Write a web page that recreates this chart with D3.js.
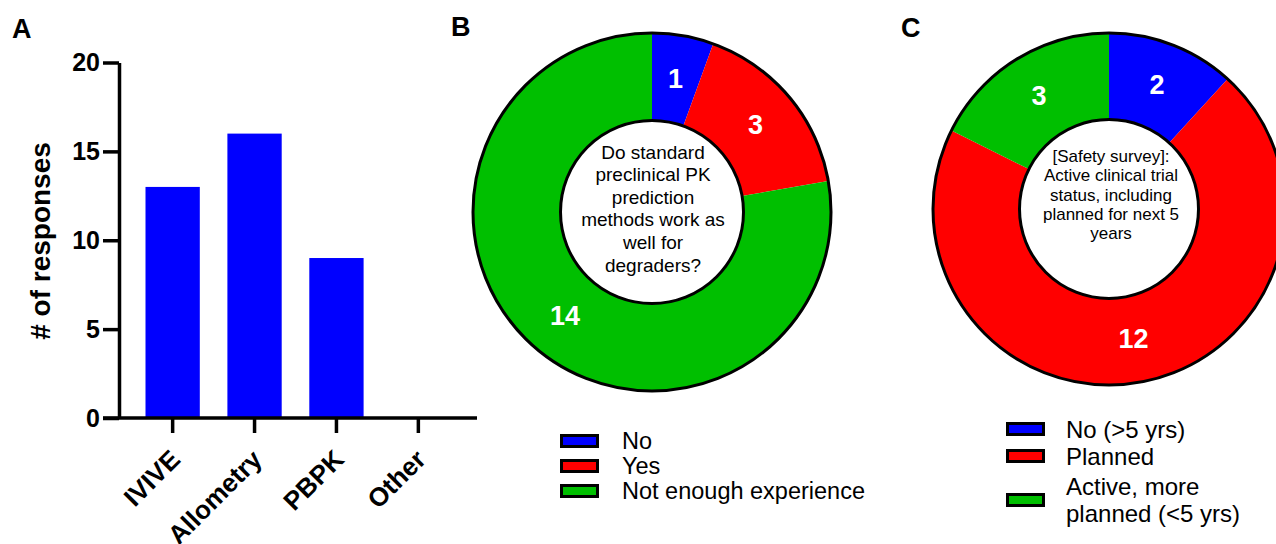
<!DOCTYPE html>
<html>
<head>
<meta charset="utf-8">
<script src="https://cdn.jsdelivr.net/npm/d3@7/dist/d3.min.js"></script>
<style>
  html, body { margin: 0; padding: 0; background: #fff; }
  svg { display: block; font-family: "Liberation Sans", Arial, Helvetica, sans-serif; }
</style>
</head>
<body>
<script>
// ---- Panel A: prediction methods used ----
const methodCategories = ["IVIVE", "Allometry", "PBPK", "Other"];
const methodResponses = [13, 16, 9, 0];
const responseTicks = [0, 5, 10, 15, 20];

// ---- Panel B: do standard PK prediction methods work for degraders ----
const pkLabels = ["No", "Yes", "Not enough experience"];
const pkCounts = [1, 3, 14];
const pkQuestion = ["Do standard", "preclinical PK", "prediction", "methods work as", "well for", "degraders?"];

// ---- Panel C: clinical trial status ----
const trialLabels = [["No (>5 yrs)"], ["Planned"], ["Active, more", "planned (<5 yrs)"]];
const trialCounts = [2, 12, 3];
const trialQuestion = ["[Safety survey]:", "Active clinical trial", "status, including", "planned for next 5", "years"];

const sliceColors = ["#0000ff", "#ff0000", "#00bf00"];

const W = 1276, H = 544;
const svg = d3.select("body").append("svg").attr("width", W).attr("height", H);

// panel letters
[["A", 12, 38], ["B", 451, 36], ["C", 901, 37]].forEach(([t, px, py]) => {
  svg.append("text").attr("x", px).attr("y", py).text(t)
    .attr("font-size", 27).attr("font-weight", "bold").attr("fill", "#000");
});

// ================= Panel A =================
const y = d3.scaleLinear().domain([0, 20]).range([418, 62.5]);
const x = d3.scaleBand().domain(methodCategories)
  .range([131.7, 459.3]).paddingInner(0.337).paddingOuter(0.1685);

const gA = svg.append("g");

gA.selectAll("rect.bar").data(methodResponses).join("rect")
  .attr("class", "bar")
  .attr("x", (d, i) => x(methodCategories[i]))
  .attr("y", d => y(d))
  .attr("width", x.bandwidth())
  .attr("height", d => y(0) - y(d))
  .attr("fill", "#0000ff");

const yAxis = gA.append("g").attr("transform", "translate(119,0)")
  .call(d3.axisLeft(y).tickValues(responseTicks).tickSize(16).tickPadding(3).tickSizeOuter(0));
yAxis.select(".domain").attr("stroke-width", 3.5).attr("stroke", "#000");
yAxis.selectAll(".tick line").attr("stroke-width", 3.5).attr("stroke", "#000");
yAxis.selectAll(".tick text").attr("font-size", 25).attr("font-weight", "bold")
  .attr("font-family", null).attr("fill", "#000");

const xAxis = gA.append("g").attr("transform", `translate(0,${y(0)})`)
  .call(d3.axisBottom(x).tickSize(15).tickSizeOuter(0));
xAxis.select(".domain").remove();
xAxis.selectAll(".tick line").attr("stroke-width", 3.5).attr("stroke", "#000");
xAxis.selectAll(".tick text")
  .attr("font-size", 26).attr("font-weight", "bold").attr("font-family", null).attr("fill", "#000")
  .attr("x", 9).attr("y", 43).attr("dy", 0)
  .attr("text-anchor", "end")
  .attr("transform", "rotate(-45, 9, 43)");

// baseline of the bar chart
gA.append("line")
  .attr("x1", 103).attr("x2", 477)
  .attr("y1", y(0)).attr("y2", y(0))
  .attr("stroke", "#000").attr("stroke-width", 3.5);

gA.append("text")
  .attr("transform", "translate(40,241) rotate(-90)")
  .attr("text-anchor", "middle").attr("dominant-baseline", "central")
  .attr("font-size", 28).attr("font-weight", "bold").attr("fill", "#000")
  .text("# of responses");

// ================= Donut helper =================
function drawDonut(cfg) {
  const g = svg.append("g").attr("transform", `translate(${cfg.cx},${cfg.cy})`);
  const pie = d3.pie().sort(null).value(d => d);
  const arcs = pie(cfg.values);
  const arc = d3.arc().innerRadius(cfg.r0).outerRadius(cfg.r1);

  g.selectAll("path").data(arcs).join("path")
    .attr("d", arc)
    .attr("fill", (d, i) => sliceColors[i]);

  g.append("circle").attr("r", cfg.r1).attr("fill", "none")
    .attr("stroke", "#000").attr("stroke-width", 3);
  g.append("circle").attr("r", cfg.r0).attr("fill", "#fff")
    .attr("stroke", "#000").attr("stroke-width", 3);

  // slice counts
  g.selectAll("text.count").data(arcs).join("text")
    .attr("class", "count")
    .attr("transform", d => `translate(${arc.centroid(d)})`)
    .attr("text-anchor", "middle").attr("dominant-baseline", "central")
    .attr("font-size", 27).attr("font-weight", "bold").attr("fill", "#fff")
    .text(d => d.data);

  // question in the hole
  const n = cfg.question.length;
  const top = cfg.textDy - (n - 1) * cfg.lineH / 2;
  g.selectAll("text.q").data(cfg.question).join("text")
    .attr("class", "q")
    .attr("x", cfg.textDx)
    .attr("y", (d, i) => top + i * cfg.lineH)
    .attr("text-anchor", "middle").attr("dominant-baseline", "central")
    .attr("font-size", cfg.qSize).attr("fill", "#000")
    .text(d => d);
}

drawDonut({ cx: 652, cy: 212, r0: 91.5, r1: 179, values: pkCounts,
  question: pkQuestion, qSize: 19, lineH: 22.6, textDx: 1, textDy: -3.5 });

drawDonut({ cx: 1109, cy: 209, r0: 89.5, r1: 176, values: trialCounts,
  question: trialQuestion, qSize: 17, lineH: 19.2, textDx: 2, textDy: -14 });

// ================= Legends =================
function drawLegend(cfg) {
  const g = svg.append("g");
  cfg.items.forEach((lines, i) => {
    const cy = cfg.rows[i];
    g.append("rect")
      .attr("x", cfg.sx + 1.5).attr("y", cy - 5.5)
      .attr("width", 36).attr("height", 11)
      .attr("fill", sliceColors[i]).attr("stroke", "#000").attr("stroke-width", 3);
    const top = cy - (lines.length - 1) * cfg.lineH / 2;
    lines.forEach((t, j) => {
      g.append("text")
        .attr("x", cfg.tx).attr("y", top + j * cfg.lineH)
        .attr("dominant-baseline", "central")
        .attr("font-size", cfg.size).attr("fill", "#000")
        .text(t);
    });
  });
}

drawLegend({ items: pkLabels.map(d => [d]), rows: [441, 466, 491],
  sx: 560, tx: 622, size: 23.5, lineH: 25 });

drawLegend({ items: trialLabels, rows: [429, 456, 500],
  sx: 1006, tx: 1066, size: 24, lineH: 27.5 });
</script>
</body>
</html>
